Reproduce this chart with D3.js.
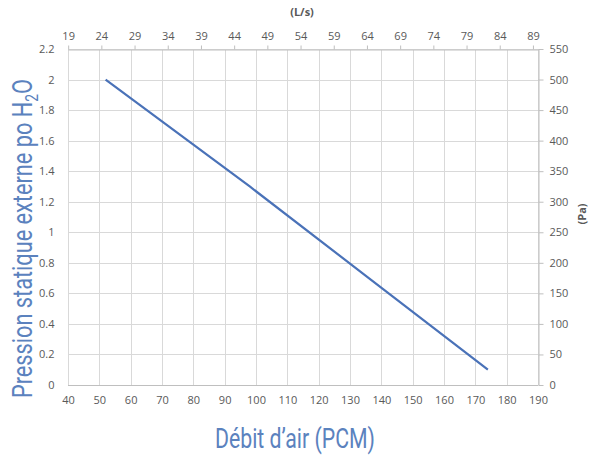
<!DOCTYPE html>
<html>
<head>
<meta charset="utf-8">
<script src="https://cdn.jsdelivr.net/npm/d3@7"></script>
<style>
  body { margin: 0; background: #fff; }
  svg { display: block; }
</style>
</head>
<body>
<div id="chart"></div>
<script>
// debit (PCM) et pression (po H2O)
var debit = [52, 98, 136, 174];
var pression = [2.0, 1.3, 0.7, 0.1];
var ticksPCM = [40, 50, 60, 70, 80, 90, 100, 110, 120, 130, 140, 150, 160, 170, 180, 190];
var ticksPo = [0, 0.2, 0.4, 0.6, 0.8, 1, 1.2, 1.4, 1.6, 1.8, 2, 2.2];
var ticksLs = [18.9, 23.9, 28.9, 33.9, 38.9, 43.9, 48.9, 53.9, 58.9, 63.9, 68.9, 73.9, 78.9, 83.9, 88.9];
var ticksPa = [0, 50, 100, 150, 200, 250, 300, 350, 400, 450, 500, 550];

function init() {
  var w = 590, h = 456;
  var left = 68, right = 538, top = 49, bottom = 385;
  var grey = "#595959";
  var bleu = "#5b82be";

  var svg = d3.select("#chart").append("svg")
    .attr("width", w)
    .attr("height", h);

  var x = d3.scaleLinear().domain([40, 190]).range([left, right]);
  var y = d3.scaleLinear().domain([0, 2.2]).range([bottom, top]);
  var xLs = d3.scaleLinear().domain([40 * 0.4719, 190 * 0.4719]).range([left, right]);
  var yPa = d3.scaleLinear().domain([0, 550]).range([bottom, top]);

  /*  grille */
  svg.append("g")
    .selectAll("line.v")
    .data(ticksPCM)
    .enter().append("line")
    .attr("x1", function(d) { return Math.round(x(d)) + 0.5; })
    .attr("x2", function(d) { return Math.round(x(d)) + 0.5; })
    .attr("y1", top).attr("y2", bottom)
    .attr("stroke", "#d9d9d9").attr("stroke-width", 1);
  svg.append("g")
    .selectAll("line.h")
    .data(ticksPo)
    .enter().append("line")
    .attr("x1", left).attr("x2", right)
    .attr("y1", function(d) { return Math.round(y(d)) + 0.5; })
    .attr("y2", function(d) { return Math.round(y(d)) + 0.5; })
    .attr("stroke", "#d9d9d9").attr("stroke-width", 1);

  var font = "'Open Sans', 'Liberation Sans', sans-serif";

  function style(g) {
    g.select(".domain").attr("stroke", "#bfbfbf");
    g.selectAll(".tick line").attr("stroke", "#bfbfbf");
    g.selectAll(".tick text")
      .attr("fill", grey)
      .attr("font-family", font)
      .attr("font-size", "11px");
  }

  // axe du bas
  var gb = svg.append("g")
    .attr("transform", "translate(0," + (bottom + 0.5) + ")")
    .call(d3.axisBottom(x).tickValues(ticksPCM).tickSize(0).tickPadding(11).tickFormat(d3.format("d")));
  style(gb);
  gb.select(".domain").attr("d", "M" + left + ",0H" + right);

  // axe de gauche
  var gl = svg.append("g")
    .attr("transform", "translate(" + (left - 0.5) + ",0)")
    .call(d3.axisLeft(y).tickValues(ticksPo).tickSize(0).tickPadding(13).tickFormat(function(d) { return d3.format("~g")(d); }));
  style(gl);
  gl.select(".domain").remove();

  // axe du haut (L/s)
  var gt = svg.append("g")
    .attr("transform", "translate(0," + (top + 0.5) + ")")
    .call(d3.axisTop(xLs).tickValues(ticksLs).tickSize(4).tickSizeOuter(0).tickPadding(6).tickFormat(d3.format(".0f")));
  style(gt);

  // axe de droite (Pa)
  var gr = svg.append("g")
    .attr("transform", "translate(" + (right + 0.5) + ",0)")
    .call(d3.axisRight(yPa).tickValues(ticksPa).tickSize(5).tickSizeOuter(0).tickPadding(6));
  style(gr);

  /*  courbe */
  var pts = debit.map(function(d, i) { return [d, pression[i]]; });
  svg.append("path")
    .datum(pts)
    .attr("fill", "none")
    .attr("stroke", "#4a72b8")
    .attr("stroke-width", 2.2)
    .attr("d", d3.line()
      .x(function(d) { return x(d[0]); })
      .y(function(d) { return y(d[1]); }));

  /*  titres */
  svg.append("text")
    .attr("x", 302).attr("y", 16)
    .attr("text-anchor", "middle")
    .attr("font-family", font).attr("font-weight", "bold")
    .attr("font-size", "11px").attr("fill", grey)
    .text("(L/s)");

  svg.append("text")
    .attr("transform", "translate(586,214) rotate(-90)")
    .attr("text-anchor", "middle")
    .attr("font-family", font).attr("font-weight", "bold")
    .attr("font-size", "11px").attr("fill", grey)
    .text("(Pa)");

  svg.append("text")
    .attr("x", 215).attr("y", 448)
    .attr("textLength", 160).attr("lengthAdjust", "spacingAndGlyphs")
    .attr("font-family", "Roboto, 'Liberation Sans', sans-serif")
    .attr("font-size", "28px").attr("fill", bleu)
    .text("Débit d\u2019air (PCM)");

  var yt = svg.append("text")
    .attr("transform", "translate(32,398) rotate(-90)")
    .attr("textLength", 319).attr("lengthAdjust", "spacingAndGlyphs")
    .attr("font-family", "Roboto, 'Liberation Sans', sans-serif")
    .attr("font-size", "28px").attr("fill", bleu);
  yt.append("tspan").text("Pression statique externe po H");
  yt.append("tspan").attr("font-size", "18px").attr("dy", 6).text("2");
  yt.append("tspan").attr("dy", -6).text("O");
}
window.onload = init;
</script>
</body>
</html>
